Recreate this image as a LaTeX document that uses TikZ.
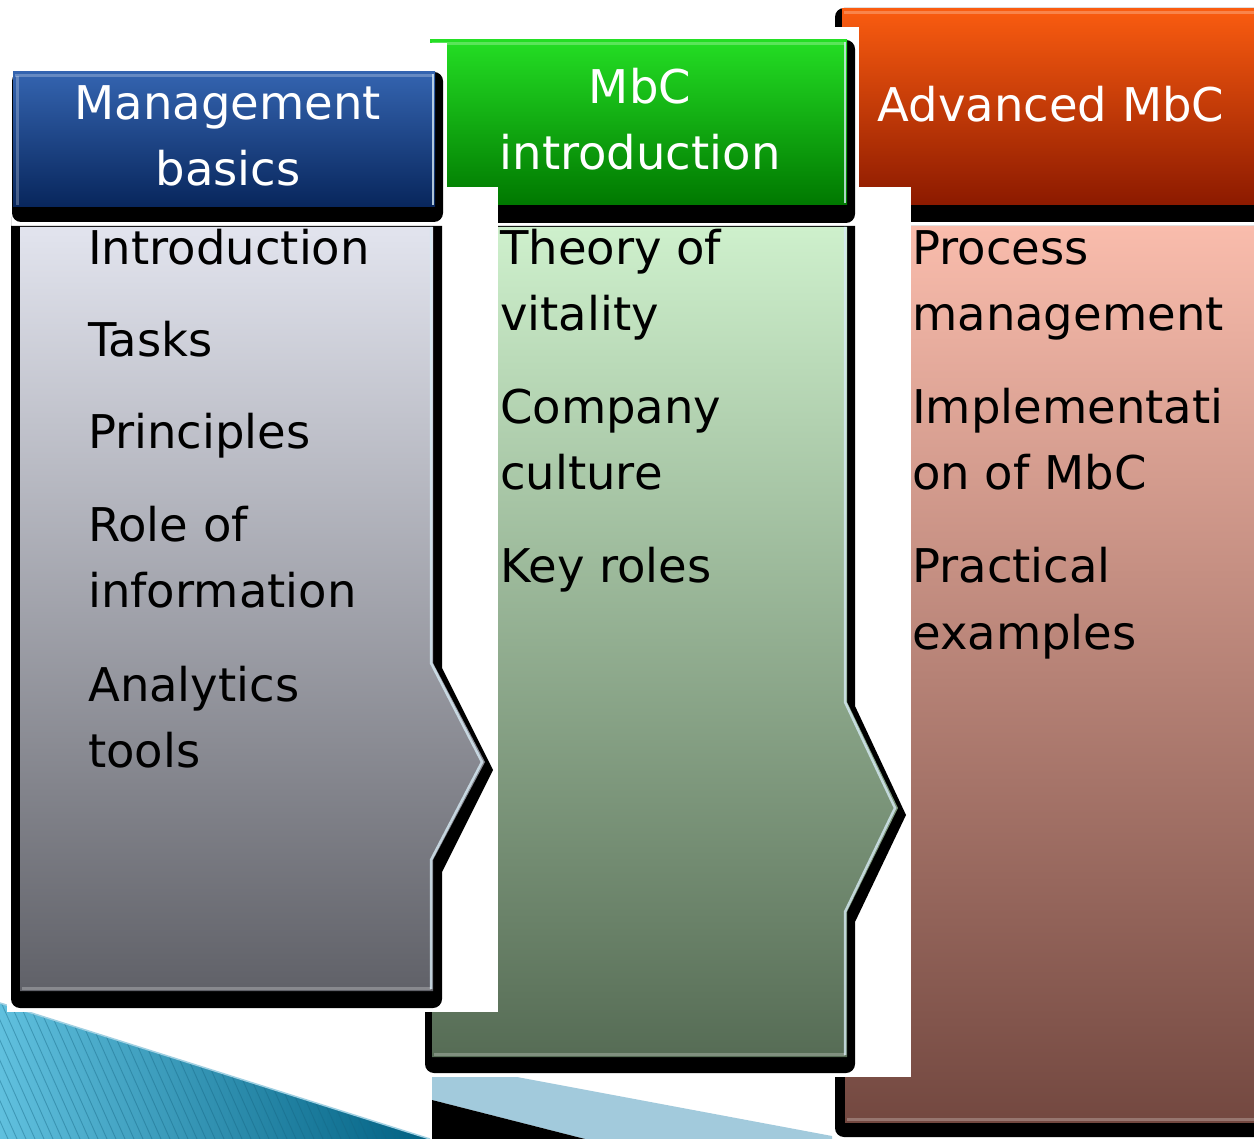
\documentclass[tikz,border=0pt]{standalone}
\usepackage{fontspec}
\setmainfont{DejaVu Sans}
\definecolor{blueT}{RGB}{52,100,176}
\definecolor{blueB}{RGB}{8,38,92}
\definecolor{greenT}{RGB}{36,222,36}
\definecolor{greenB}{RGB}{0,120,0}
\definecolor{orangeT}{RGB}{250,92,16}
\definecolor{orangeB}{RGB}{140,26,0}
\definecolor{greyT}{RGB}{226,228,238}
\definecolor{greyB}{RGB}{96,97,104}
\definecolor{mintT}{RGB}{206,240,204}
\definecolor{mintB}{RGB}{86,108,85}
\definecolor{pinkT}{RGB}{249,188,172}
\definecolor{pinkB}{RGB}{115,72,64}
\definecolor{tealL}{RGB}{96,192,222}
\definecolor{tealD}{RGB}{0,96,130}
\definecolor{tealS}{RGB}{20,100,130}
\definecolor{tealE}{RGB}{160,208,226}
\definecolor{bandblue}{RGB}{162,202,220}
\definecolor{liteedge}{RGB}{215,235,245}
\tikzset{
  bodytext/.style={font=\fontsize{46.5}{54}\selectfont, anchor=base west, inner sep=0pt, text=black},
  headtext/.style={font=\fontsize{46.5}{54}\selectfont, anchor=base, inner sep=0pt, text=white},
  blk/.style={fill=black},
  hilite/.style={draw=liteedge, line width=2.5pt, opacity=0.8},
  softlite/.style={draw=white, line width=3pt, opacity=0.25},
  stripe/.style={draw=tealS, line width=0.9pt, opacity=0.4}
}
\begin{document}
\begin{tikzpicture}[x=1pt,y=-1pt]
\useasboundingbox (0,0) rectangle (1254,1139);
\fill[white] (0,0) rectangle (1254,1139);

% ---- background decoration ----
\begin{scope}
  \clip (0,1003) -- (430,1139) -- (0,1139) -- cycle;
  \shade[left color=tealL, right color=tealD] (0,1000) rectangle (432,1139);
  \foreach \i in {-10,...,50} \draw[stripe] (\i*9,1000) -- ++(62,139);
\end{scope}
\draw[tealE, line width=1.5pt] (0,1003) -- (430,1139);
\fill[bandblue] (432,1077) -- (517,1077) -- (832,1136) -- (832,1139) -- (585,1139) -- (432,1100) -- cycle;
\fill[black] (432,1100) -- (585,1139) -- (432,1139) -- cycle;

% ---- right column (orange / pink) ----
\fill[blk, rounded corners=9pt] (835,8) rectangle (1275,222);
\shade[top color=orangeT, bottom color=orangeB] (842,9) rectangle (1260,205);
\draw[softlite] (844,13) -- (1260,13);
\fill[blk] (835,226) -- (1275,226) -- (1275,1137) [rounded corners=9pt] -- (835,1137) -- (835,226) [sharp corners] -- cycle;
\shade[top color=pinkT, bottom color=pinkB] (845,227) rectangle (1260,1122);
\draw[softlite] (847,1119) -- (1260,1119);

% ---- white text-box areas (middle) ----
\fill[white] (830,27) rectangle (859,187);
\fill[white] (432,187) rectangle (911,1077);

% ---- middle column (green / mint) ----
\fill[blk, rounded corners=9pt] (428,40) rectangle (855,223);
\shade[top color=greenT, bottom color=greenB] (430,40) rectangle (847,205);
\draw[softlite] (432,44) -- (845,44);
\draw[hilite] (845,42) -- (845,203);
\fill[blk] (425,226) -- (855,226) -- (855,706) -- (906,815) -- (855,922) [rounded corners=9pt] -- (855,1073) -- (425,1073) -- (425,226) [sharp corners] -- cycle;
\shade[top color=mintT, bottom color=mintB] (432,227) -- (847,227) -- (847,702) -- (898,808) -- (847,912) -- (847,1057) -- (432,1057) -- cycle;
\draw[hilite] (845,227) -- (845,702) -- (895,808) -- (845,912) -- (845,1055);
\draw[softlite] (434,1054) -- (845,1054);

% ---- white text-box areas (left) ----
\fill[white] (420,43) rectangle (447,187);
\fill[white] (7,187) rectangle (498,1012);

% ---- left column (blue / grey) ----
\fill[blk, rounded corners=9pt] (12,72) rectangle (443,222);
\shade[top color=blueT, bottom color=blueB] (13,72) rectangle (435,207);
\draw[softlite] (15,76) -- (433,76);
\draw[softlite] (17,76) -- (17,205);
\draw[hilite] (433,74) -- (433,205);
\fill[blk] (11,226) -- (442,226) -- (442,668) -- (493,770) -- (442,872) [rounded corners=9pt] -- (442,1008) -- (11,1008) -- (11,226) [sharp corners] -- cycle;
\shade[top color=greyT, bottom color=greyB] (20,227) -- (433,227) -- (433,663) -- (485,762) -- (433,860) -- (433,991) -- (20,991) -- cycle;
\draw[hilite] (431,227) -- (431,663) -- (482,762) -- (431,860) -- (431,989);
\draw[softlite] (22,988) -- (431,988);

% ---- header texts ----
\node[headtext] (h1a) at (228,120) {Management};
\node[headtext] (h1b) at (228,186) {basics};
\node[headtext] (h2a) at (640,104) {MbC};
\node[headtext] (h2b) at (640,170) {introduction};
\node[headtext] (h3a) at (1051,122) {Advanced MbC};

% ---- left body texts ----
\node[bodytext] (l1) at (88,265) {Introduction};
\node[bodytext] (l2) at (88,357) {Tasks};
\node[bodytext] (l3) at (88,449) {Principles};
\node[bodytext] (l4a) at (88,541) {Role of};
\node[bodytext] (l4b) at (88,607) {information};
\node[bodytext] (l5a) at (88,701) {Analytics};
\node[bodytext] (l5b) at (88,767) {tools};

% ---- middle body texts ----
\node[bodytext] (m1a) at (500,265) {Theory of};
\node[bodytext] (m1b) at (500,331) {vitality};
\node[bodytext] (m2a) at (500,424) {Company};
\node[bodytext] (m2b) at (500,490) {culture};
\node[bodytext] (m3) at (500,583) {Key roles};

% ---- right body texts ----
\node[bodytext] (r1a) at (912,265) {Process};
\node[bodytext] (r1b) at (912,331) {management};
\node[bodytext] (r2a) at (912,424) {Implementati};
\node[bodytext] (r2b) at (912,490) {on of MbC};
\node[bodytext] (r3a) at (912,583) {Practical};
\node[bodytext] (r3b) at (912,649) {examples};
\end{tikzpicture}
\end{document}
